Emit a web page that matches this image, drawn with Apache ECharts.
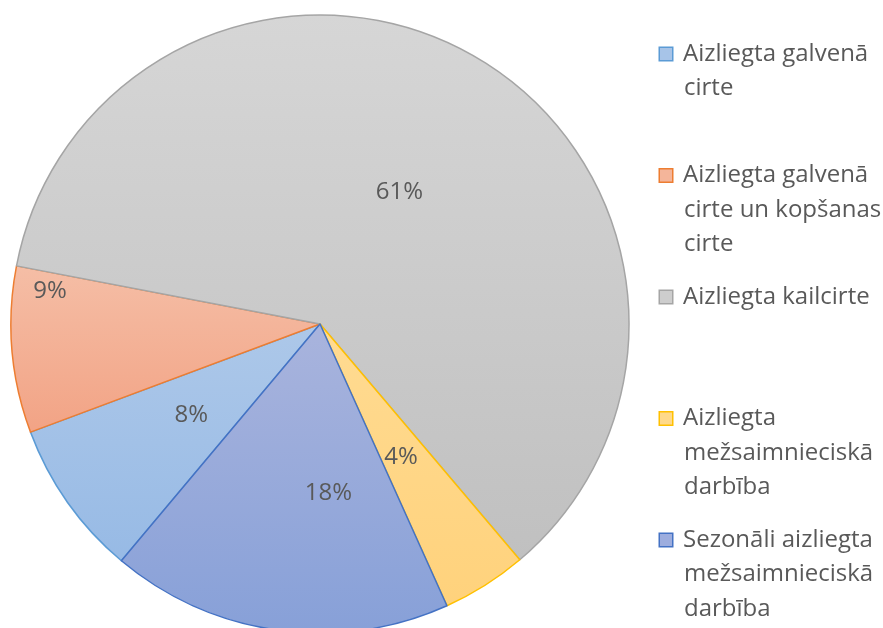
<!DOCTYPE html>
<html>
<head>
<meta charset="utf-8">
<script src="https://cdn.jsdelivr.net/npm/echarts@6/dist/echarts.min.js"></script>
<style>
html,body{margin:0;padding:0;background:#fff;}
#c{width:883px;height:628px;}
</style>
</head>
<body>
<div id="c"></div>
<script>
// ---- data ----
const categories = [
  'Aizliegta galvenā cirte',
  'Aizliegta galvenā cirte un kopšanas cirte',
  'Aizliegta kailcirte',
  'Aizliegta mežsaimnieciskā darbība',
  'Sezonāli aizliegta mežsaimnieciskā darbība'
];
const values = [8.2, 8.7, 60.8, 4.45, 17.85];

// ---- styles ----
const borderColors = ['#5B9BD5', '#ED7D31', '#A5A5A5', '#FFC000', '#4472C4'];
const fillTop = ['#adc8e9', '#f5bea6', '#d6d6d6', '#ffdb92', '#a9b4dd'];
const fillBottom = ['#97bae5', '#f2a385', '#c0c0c0', '#ffd27c', '#87a0d8'];
const iconFill = ['#a7c4e8', '#f4b59a', '#cdcdcd', '#ffd98a', '#9dadde'];
// label nudges (Excel "best fit" placement), in px
const labelNudge = [[0, 0], [-113, -46], [0, 4], [-3, 0], [30, 13]];
const FONT = "'Open Sans', sans-serif";
const FS = 24;
const TXT = '#595959';

function grad(i) {
  return {
    type: 'linear', x: 0, y: 0, x2: 0, y2: 1,
    colorStops: [{offset: 0, color: fillTop[i]}, {offset: 1, color: fillBottom[i]}]
  };
}

// word wrap for legend
const cv = document.createElement('canvas').getContext('2d');
cv.font = FS + 'px ' + FONT;
function wrap(text, maxW) {
  const words = text.split(' ');
  const lines = [];
  let cur = '';
  words.forEach(w => {
    const t = cur ? cur + ' ' + w : w;
    if (cur && cv.measureText(t).width > maxW) { lines.push(cur); cur = w; }
    else cur = t;
  });
  if (cur) lines.push(cur);
  return lines;
}

const rich = {
  t: {fontFamily: FONT, fontSize: FS, color: TXT, lineHeight: 34.5},
  ind: {width: 24, height: 10},
  gap: {width: 11, height: 10}
};
categories.forEach((c, i) => {
  rich['b' + i] = {
    width: 12, height: 12, backgroundColor: iconFill[i],
    borderColor: borderColors[i], borderWidth: 1.5, verticalAlign: 'middle'
  };
});

const chart = echarts.init(document.getElementById('c'), null, {renderer: 'canvas'});

const mainData = categories.map((c, i) => ({
  name: c, value: values[i],
  itemStyle: {color: grad(i), borderColor: borderColors[i], borderWidth: 1.5}
}));

chart.setOption({
  animation: false,
  backgroundColor: '#ffffff',
  legend: {
    orient: 'vertical',
    left: 649,
    top: 37,
    itemWidth: 0,
    itemHeight: 0,
    itemGap: 28.5,
    selectedMode: false,
    data: categories,
    textStyle: {rich: rich, fontFamily: FONT, fontSize: FS, color: TXT},
    formatter: function (name) {
      const i = categories.indexOf(name);
      const lines = wrap(name, 200);
      while (lines.length < 3) lines.push(' ');
      return lines.map((l, k) => (k === 0 ? '{b' + i + '|}{gap|}' : '{ind|}') + '{t|' + l + '}').join('\n');
    }
  },
  series: [
    {
      type: 'pie',
      center: [320, 324],
      radius: [0, 309],
      startAngle: 230,
      clockwise: true,
      silent: true,
      data: mainData,
      label: {
        position: 'inside',
        formatter: p => Math.round(p.percent) + '%',
        fontFamily: FONT, fontSize: FS, color: TXT
      },
      labelLine: {show: false},
      labelLayout: p => ({dx: labelNudge[p.dataIndex][0], dy: labelNudge[p.dataIndex][1]})
    }
  ]
});
</script>
</body>
</html>
